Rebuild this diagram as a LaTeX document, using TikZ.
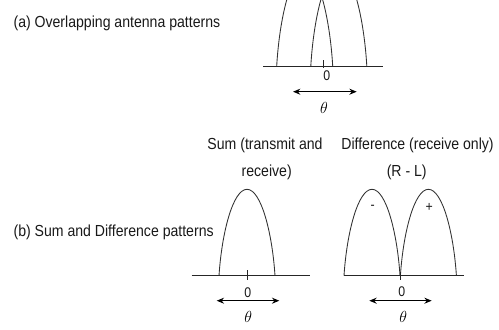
\documentclass[tikz,border=0pt]{standalone}
\usepackage{fontspec}
\setmainfont[FakeStretch=0.88]{Liberation Sans}
\usepackage{tikz}
\usetikzlibrary{arrows.meta, positioning}
\definecolor{patgray}{RGB}{50,50,50}

% one beam lobe: centre x, base y, height (all in px)
\newcommand{\lobe}[3]{%
  \draw[lobeline] ({#1-28},#2)
    .. controls ({#1-25.2},{#2-0.5*#3}) and ({#1-14},{#2-#3}) .. ({#1},{#2-#3})
    .. controls ({#1+14},{#2-#3}) and ({#1+25.2},{#2-0.5*#3}) .. ({#1+28},#2);
}

\begin{document}
\begin{tikzpicture}[
    x=0.75pt, y=-0.75pt,
    lobeline/.style={patgray, line width=0.65pt},
    axisline/.style={black!85, line width=0.65pt},
    sweep/.style={
        black,
        line width=0.9pt,
        {Stealth[length=5.5pt,width=4.5pt]}-{Stealth[length=5.5pt,width=4.5pt]}
    },
    patlabel/.style={inner sep=0pt, text=black!90, font=\fontsize{12}{14}\selectfont},
    zerolabel/.style={inner sep=0pt, text=black!90, font=\fontsize{10.5}{12}\selectfont},
    anglabel/.style={inner sep=0pt, font=\fontsize{12.5}{14}\selectfont}
]

    \useasboundingbox (0,0) rectangle (499,329);

    % (a) overlapping patterns
    \node[patlabel, anchor=west] (titleA) at (13.3,23) {(a) Overlapping antenna patterns};

    \begin{scope}
        \clip (0,0) rectangle (499,329);
        \lobe{304.7}{66}{95}
        \lobe{338.8}{66}{95}
    \end{scope}
    \draw[axisline] (263,66) -- (383,66);
    \draw[axisline] (323.3,60) -- (323.3,68);
    \node[zerolabel] (zeroA) at (326.7,76) {0};

    \coordinate (sweepA-l) at (293,91.7);
    \coordinate (sweepA-r) at (356.7,91.7);
    \draw[sweep] (sweepA-l) -- (sweepA-r);
    \node[anglabel] (thetaA) at (324,108) {$\theta$};

    % (b) sum and difference
    \node[patlabel, anchor=west] (titleB) at (13.3,232) {(b) Sum and Difference patterns};

    \node[patlabel] (sumhead) at (265,145) {Sum (transmit and};
    \node[patlabel] (sumhead2) at (266.7,172) {receive)};
    \node[patlabel] (diffhead) at (417.5,145) {Difference (receive only)};
    \node[patlabel] (diffhead2) at (406.7,172) {(R - L)};

    % sum pattern
    \lobe{247}{275.7}{86.4}
    \draw[axisline] (191.7,275.7) -- (310,275.7);
    \draw[axisline] (247.7,270) -- (247.7,280);
    \node[zerolabel] (zeroS) at (247.7,292.5) {0};

    \coordinate (sweepS-l) at (216.7,300.7);
    \coordinate (sweepS-r) at (279.3,300.7);
    \draw[sweep] (sweepS-l) -- (sweepS-r);
    \node[anglabel] (thetaS) at (248.3,317.3) {$\theta$};

    % difference pattern
    \lobe{372}{275.7}{86.4}
    \lobe{428.4}{275.7}{86.4}
    \node[zerolabel] (minus) at (372.7,207.7) {-};
    \node[zerolabel] (plus) at (429.3,207.7) {+};
    \draw[axisline] (344,275.7) -- (464.3,275.7);
    \draw[axisline] (400,272) -- (400,280);
    \node[zerolabel] (zeroD) at (401.7,292) {0};

    \coordinate (sweepD-l) at (369.3,300.7);
    \coordinate (sweepD-r) at (431.7,300.7);
    \draw[sweep] (sweepD-l) -- (sweepD-r);
    \node[anglabel] (thetaD) at (403.3,317.3) {$\theta$};

\end{tikzpicture}
\end{document}
